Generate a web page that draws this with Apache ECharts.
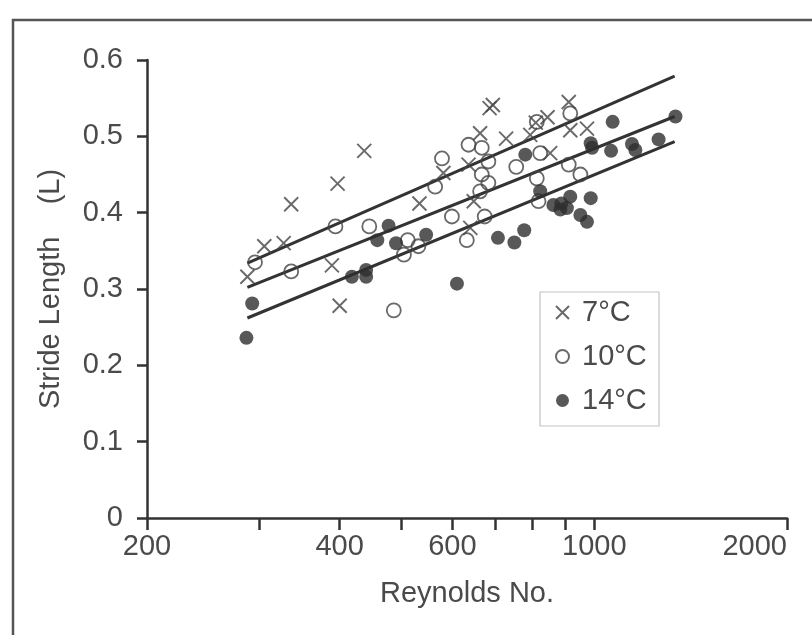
<!DOCTYPE html>
<html><head><meta charset="utf-8">
<script src="https://cdn.jsdelivr.net/npm/echarts@6/dist/echarts.min.js"></script>
<style>html,body{margin:0;padding:0;background:#fff}#c{width:812px;height:635px}</style>
</head><body><div id="c"></div>
<script>
// ---- data (Reynolds No., stride length in L) ----
const xLabelTicks = [200, 400, 600, 1000, 2000];
const xAllTicks = [200, 300, 400, 500, 600, 700, 800, 900, 1000, 2000];
const seriesNames = ['7°C', '10°C', '14°C'];

const pts7C = [
  [287,0.316],[305,0.356],[327,0.360],[336,0.411],[389,0.331],[397,0.438],[400,0.278],
  [437,0.481],[533,0.412],[581,0.452],[636,0.463],[640,0.380],[648,0.415],[663,0.504],
  [686,0.537],[694,0.541],[728,0.497],[794,0.502],[810,0.518],[845,0.525],[853,0.478],
  [912,0.545],[917,0.508],[974,0.510]
];
const pts10C = [
  [295,0.335],[336,0.323],[394,0.382],[445,0.382],[486,0.272],[504,0.345],[511,0.364],
  [531,0.356],[564,0.434],[578,0.471],[599,0.395],[632,0.364],[636,0.489],[663,0.428],
  [667,0.485],[667,0.450],[674,0.395],[683,0.467],[683,0.439],[755,0.460],[813,0.519],
  [813,0.445],[818,0.415],[823,0.478],[912,0.463],[917,0.530],[951,0.450]
];
const pts14C = [
  [286,0.236],[292,0.281],[418,0.316],[440,0.325],[440,0.316],[458,0.364],[477,0.383],
  [490,0.360],[546,0.371],[610,0.307],[707,0.367],[750,0.361],[777,0.377],[780,0.476],
  [823,0.428],[863,0.410],[885,0.404],[888,0.412],[906,0.406],[917,0.421],[951,0.397],
  [974,0.388],[987,0.419],[987,0.491],[992,0.485],[1062,0.481],[1068,0.519],[1145,0.490],
  [1159,0.482],[1260,0.496],[1339,0.526]
];
// regression lines: endpoints in Reynolds No. and stride length
const fitRe = [287, 1335];
const fit7C = [0.334, 0.579];
const fit10C = [0.302, 0.526];
const fit14C = [0.262, 0.493];

// ---- chart ----
const lg = v => Math.log10(v);
const toXY = arr => arr.map(p => [lg(p[0]), p[1]]);
const fitData = ys => fitRe.map((r, i) => [lg(r), ys[i]]);

const FONT = '"Liberation Sans", Arial, sans-serif';
const INK = '#333';
const TXT = '#4a4a4a';
const FS = 29;
const crossPath = 'path://M0,0L10,10M10,0L0,10';

const chart = echarts.init(document.getElementById('c'));
const lineSeries = (ys) => ({
  type: 'line', data: fitData(ys), symbol: 'none', silent: true,
  lineStyle: {color: INK, width: 3}, z: 3
});
chart.setOption({
  animation: false,
  backgroundColor: '#fff',
  textStyle: {fontFamily: FONT},
  grid: {left: 147, right: 25, top: 60, bottom: 117},
  xAxis: {
    type: 'value', min: lg(200), max: lg(2000),
    name: 'Reynolds No.', nameLocation: 'middle', nameGap: 61,
    nameTextStyle: {fontSize: FS, color: TXT, fontFamily: FONT},
    axisLine: {show: true, lineStyle: {color: INK, width: 2.5}},
    axisTick: {show: true, customValues: xAllTicks.map(lg), length: 12, lineStyle: {color: INK, width: 2.5}},
    axisLabel: {customValues: xLabelTicks.map(lg), formatter: v => String(Math.round(Math.pow(10, v))),
      fontSize: FS, color: TXT, margin: 14, fontFamily: FONT, alignMaxLabel: 'right'},
    splitLine: {show: false}
  },
  yAxis: {
    type: 'value', min: 0, max: 0.6, interval: 0.1,
    name: 'Stride Length    (L)', nameLocation: 'middle', nameGap: 82, nameRotate: 90,
    nameTextStyle: {fontSize: FS, color: TXT, fontFamily: FONT},
    axisLine: {show: true, lineStyle: {color: INK, width: 2.5}},
    axisTick: {show: true, length: 10, lineStyle: {color: INK, width: 2.5}},
    axisLabel: {fontSize: FS, color: TXT, margin: 24, fontFamily: FONT},
    splitLine: {show: false}
  },
  legend: {
    orient: 'vertical', left: 555, top: 298, itemWidth: 13, itemHeight: 13, itemGap: 15,
    padding: 0, data: seriesNames,
    textStyle: {fontSize: FS, color: TXT, fontFamily: FONT, padding: [0, 0, 0, 8]}
  },
  graphic: [
    {type: 'rect', z: 0, shape: {x: 13, y: 20, width: 900, height: 700},
      style: {fill: 'none', stroke: '#555', lineWidth: 2.5}},
    {type: 'rect', z: 1, shape: {x: 540, y: 292, width: 119, height: 134},
      style: {fill: 'none', stroke: '#c4c4c4', lineWidth: 1.2}}
  ],
  series: [
    {name: seriesNames[0], type: 'scatter', data: toXY(pts7C), symbol: crossPath, symbolSize: 14,
      itemStyle: {color: 'rgba(0,0,0,0)', borderColor: '#444', borderWidth: 1.9}, z: 4},
    {name: seriesNames[1], type: 'scatter', data: toXY(pts10C), symbol: 'circle', symbolSize: 14,
      itemStyle: {color: 'rgba(255,255,255,0)', borderColor: '#444', borderWidth: 1.8}, z: 4},
    {name: seriesNames[2], type: 'scatter', data: toXY(pts14C), symbol: 'circle', symbolSize: 14,
      itemStyle: {color: '#2e2e2e', borderColor: '#2e2e2e', borderWidth: 0}, z: 4},
    lineSeries(fit7C), lineSeries(fit10C), lineSeries(fit14C)
  ]
});
</script></body></html>
